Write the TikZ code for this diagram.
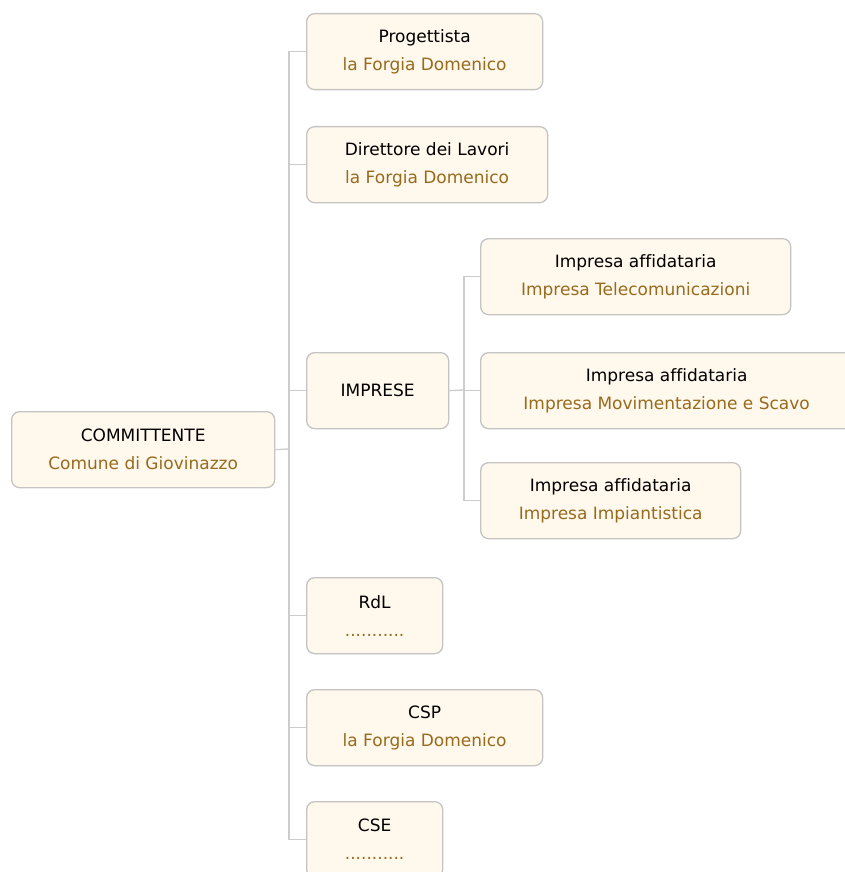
\documentclass[tikz,border=0pt]{standalone}
\usepackage{fontspec}
\setmainfont[Ligatures=NoCommon]{DejaVu Sans}
\usepackage{tikz}

\definecolor{boxfill}{RGB}{255,248,236}
\definecolor{boxline}{RGB}{196,196,196}
\definecolor{wireline}{RGB}{204,204,204}
\definecolor{namecol}{RGB}{152,106,28}

\tikzset{
  role/.style={draw=boxline, line width=1.3pt, fill=boxfill, rounded corners=8pt,
    anchor=north west, minimum height=76pt, inner sep=0pt, align=center,
    font=\fontsize{17}{28}\selectfont},
  wire/.style={draw=wireline, line width=1.3pt}
}
\newcommand{\who}[1]{\textcolor{namecol}{#1}}

\begin{document}
\begin{tikzpicture}[x=1pt,y=-1pt]
    \useasboundingbox (0,0) rectangle (845,872);
    \node[role, minimum width=263pt] (comm) at (11,411) {COMMITTENTE\\\who{Comune di Giovinazzo}};
    \node[role, minimum width=236pt] (prog) at (306,13) {Progettista\\\who{la Forgia Domenico}};
    \node[role, minimum width=241pt] (dl) at (306,126) {Direttore dei Lavori\\\who{la Forgia Domenico}};
    \node[role, minimum width=142pt] (imp) at (306,352) {IMPRESE};
    \node[role, minimum width=310pt] (tel) at (480,238) {Impresa affidataria\\\who{Impresa Telecomunicazioni}};
    \node[role, minimum width=372pt] (mov) at (480,352) {Impresa affidataria\\\who{Impresa Movimentazione e Scavo}};
    \node[role, minimum width=260pt] (pia) at (480,462) {Impresa affidataria\\\who{Impresa Impiantistica}};
    \node[role, minimum width=136pt] (rdl) at (306,577) {RdL\\\who{...........}};
    \node[role, minimum width=236pt] (csp) at (306,689) {CSP\\\who{la Forgia Domenico}};
    \node[role, minimum width=136pt] (cse) at (306,801) {CSE\\\who{...........}};
    % connectors
    \coordinate (trunk) at (289,449);
    \coordinate (fork) at (464,390);
    \draw[wire] (comm.east) -- (trunk);
    \foreach \n in {prog,dl,imp,rdl,csp,cse}
      \draw[wire] (trunk) |- (\n.west);
    \draw[wire] (imp.east) -- (fork);
    \foreach \n in {tel,mov,pia}
      \draw[wire] (fork) |- (\n.west);
\end{tikzpicture}
\end{document}
